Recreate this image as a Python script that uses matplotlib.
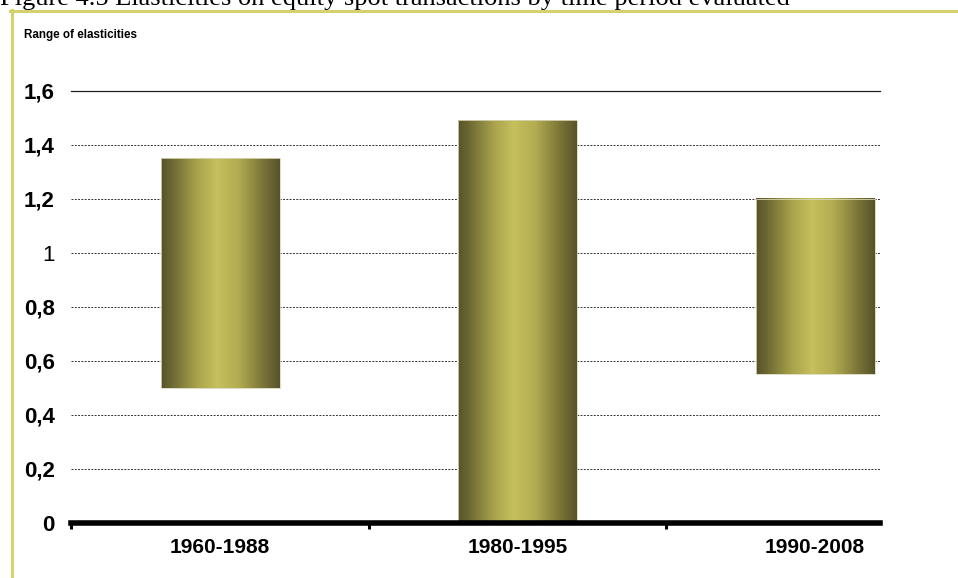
import numpy as np
import matplotlib
matplotlib.use("Agg")
from matplotlib import pyplot as plt
from matplotlib.colors import LinearSegmentedColormap
from matplotlib.lines import Line2D

# range of elasticities per period (low, high)
periods = ['1960-1988', '1980-1995', '1990-2008']
low = [0.50, 0.00, 0.55]
high = [1.35, 1.49, 1.20]
yticks = [0, 0.2, 0.4, 0.6, 0.8, 1.0, 1.2, 1.4, 1.6]
ytick_labels = ['0', '0,2', '0,4', '0,6', '0,8', '1', '1,2', '1,4', '1,6']

sans = ['Liberation Sans', 'DejaVu Sans']

fig = plt.figure(figsize=(9.58, 5.78), dpi=100)
ax = fig.add_axes([0.0744, 0.0952, 0.8442, 0.7479])

# cylinder-like shading for the bars
shade = LinearSegmentedColormap.from_list('olive', [
    (0.0, '#57532a'), (0.12, '#747036'), (0.30, '#a8a24c'),
    (0.47, '#c7c05d'), (0.65, '#b3ac52'), (0.85, '#7c7738'), (1.0, '#57532a')])
grad = np.linspace(0, 1, 256).reshape(1, -1)

x = np.arange(len(periods))
heights = [h - l for h, l in zip(high, low)]
bars = ax.bar(x, heights, bottom=low, width=0.40, facecolor='none',
              edgecolor='#d9d7b8', linewidth=0.6, zorder=3)
for b in bars:
    x0, y0 = b.get_x(), b.get_y()
    ax.imshow(grad, cmap=shade, aspect='auto', zorder=2,
              extent=[x0, x0 + b.get_width(), y0, y0 + b.get_height()])

ax.set_xlim(-0.5, 2.2185)
ax.set_ylim(0, 1.6)

ax.set_yticks(yticks)
ax.set_yticklabels(ytick_labels)
ax.tick_params(axis='y', length=0, pad=12)
for lab in ax.get_yticklabels():
    lab.set_fontfamily(sans)
    lab.set_fontsize(16)
    lab.set_fontweight('normal' if lab.get_text() == '1' else 'bold')

ax.yaxis.grid(True, color='#333333', linewidth=0.7, linestyle=(0, (2.0, 1.4)))
ax.set_axisbelow(True)

# category labels under the bars, boundary notches on the axis
ax.set_xticks([-0.5, 0.5, 1.5])
ax.set_xticklabels([])
ax.tick_params(axis='x', which='major', length=4, width=2.2, direction='out')
ax.set_xticks(x, minor=True)
ax.set_xticklabels(periods, minor=True, fontfamily=sans, fontsize=15,
                   fontweight='bold')
ax.tick_params(axis='x', which='minor', length=0, pad=11)

for s in ['left', 'right']:
    ax.spines[s].set_visible(False)
ax.spines['top'].set_color('#222222')
ax.spines['top'].set_linewidth(0.9)
ax.spines['bottom'].set_linewidth(4)
ax.spines['bottom'].set_zorder(4)

fig.text(24 / 958, 1 - 38 / 578, 'Range of elasticities', fontfamily=sans,
         fontsize=8.4, fontweight='bold', va='baseline', ha='left')

# caption (partly above the page edge) and frame
fig.text(0, 1 - 5 / 578,
         'Figure 4.5 Elasticities on equity spot transactions by time period evaluated',
         fontfamily=['Liberation Serif', 'DejaVu Serif'], fontsize=19,
         va='baseline', ha='left')
frame = '#d5d16c'
fig.add_artist(Line2D([10 / 958, 1], [1 - 10.5 / 578] * 2, color=frame,
                      linewidth=2.2, transform=fig.transFigure))
fig.add_artist(Line2D([11.5 / 958] * 2, [0, 1 - 9.5 / 578], color=frame,
                      linewidth=2.2, transform=fig.transFigure))

fig.savefig('out.png', dpi=100)
